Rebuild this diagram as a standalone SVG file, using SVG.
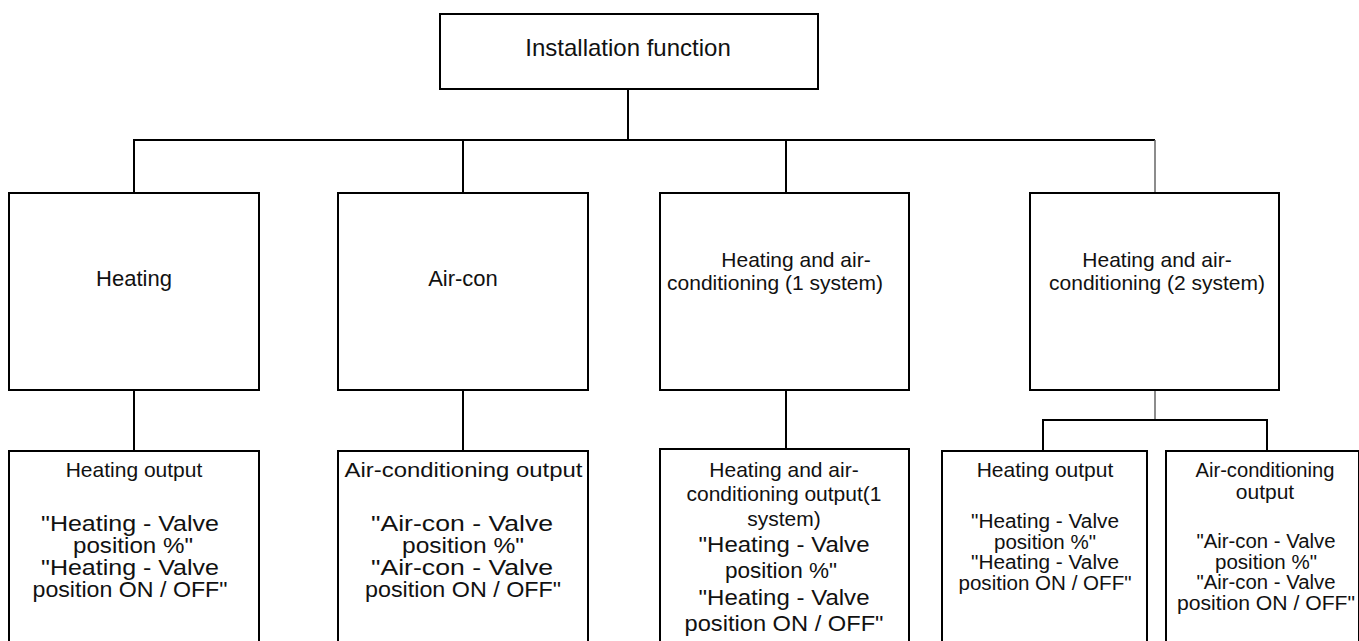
<svg xmlns="http://www.w3.org/2000/svg" width="1359" height="641" viewBox="0 0 1359 641">
<style>
.box{fill:#fff;stroke:#000;stroke-width:2}
.ln{stroke:#000;stroke-width:2;fill:none}
.gl{stroke:#666;stroke-width:1.5;fill:none}
text{font-family:"Liberation Sans",Arial,sans-serif;fill:#111;text-anchor:middle}
.t24{font-size:24px}
.t22{font-size:22px}
.t21{font-size:21px}
.b1{font-size:21.5px}
.b2{font-size:22px}
.b3{font-size:19.5px}
</style>
<rect width="1359" height="641" fill="#fff"/>
<g id="connectors">
<line class="ln" x1="628" y1="89" x2="628" y2="140"/>
<line class="ln" x1="133" y1="140" x2="1155" y2="140"/>
<line class="ln" x1="134" y1="140" x2="134" y2="193"/>
<line class="ln" x1="463" y1="140" x2="463" y2="193"/>
<line class="ln" x1="786" y1="140" x2="786" y2="193"/>
<line class="gl" x1="1155" y1="140" x2="1155" y2="193"/>
<line class="ln" x1="134" y1="390" x2="134" y2="451"/>
<line class="ln" x1="463" y1="390" x2="463" y2="451"/>
<line class="ln" x1="786" y1="390" x2="786" y2="449"/>
<line class="gl" x1="1155" y1="390" x2="1155" y2="420"/>
<polyline class="ln" points="1043,451 1043,420 1267,420 1267,451"/>
</g>
<g id="install">
<rect class="box" x="440" y="14" width="378" height="75"/>
<text class="t24" x="628" y="56">Installation function</text>
</g>
<g id="heating">
<rect class="box" x="9" y="193" width="250" height="197"/>
<text class="t22" x="134" y="286">Heating</text>
</g>
<g id="aircon">
<rect class="box" x="338" y="193" width="250" height="197"/>
<text class="t22" x="463" y="286">Air-con</text>
</g>
<g id="hvac1">
<rect class="box" x="660" y="193" width="249" height="197"/>
<text class="t21" x="796" y="267">Heating and air-</text>
<text class="t21" x="775" y="290">conditioning (1 system)</text>
</g>
<g id="hvac2">
<rect class="box" x="1030" y="193" width="249" height="197"/>
<text class="t21" x="1157" y="267">Heating and air-</text>
<text class="t21" x="1157" y="290">conditioning (2 system)</text>
</g>
<g id="heating-out">
<rect class="box" x="9" y="451" width="250" height="220"/>
<text class="t21" x="134" y="477">Heating output</text>
<text class="b1" x="130" y="531" textLength="178" lengthAdjust="spacingAndGlyphs">"Heating - Valve</text>
<text class="b1" x="133" y="553" textLength="120" lengthAdjust="spacingAndGlyphs">position %"</text>
<text class="b1" x="130" y="575" textLength="178" lengthAdjust="spacingAndGlyphs">"Heating - Valve</text>
<text class="b1" x="130" y="597" textLength="195" lengthAdjust="spacingAndGlyphs">position ON / OFF"</text>
</g>
<g id="aircon-out">
<rect class="box" x="338" y="451" width="250" height="220"/>
<text class="t21" x="463.5" y="477" textLength="238" lengthAdjust="spacingAndGlyphs">Air-conditioning output</text>
<text class="b1" x="462" y="531" textLength="182" lengthAdjust="spacingAndGlyphs">"Air-con - Valve</text>
<text class="b1" x="463" y="553" textLength="122" lengthAdjust="spacingAndGlyphs">position %"</text>
<text class="b1" x="462" y="575" textLength="182" lengthAdjust="spacingAndGlyphs">"Air-con - Valve</text>
<text class="b1" x="463" y="597" textLength="196" lengthAdjust="spacingAndGlyphs">position ON / OFF"</text>
</g>
<g id="hvac1-out">
<rect class="box" x="660" y="449" width="249" height="220"/>
<text class="t21" x="784" y="477">Heating and air-</text>
<text class="t21" x="784" y="501">conditioning output(1</text>
<text class="t21" x="784" y="526">system)</text>
<text class="b2" x="784" y="552" textLength="171" lengthAdjust="spacingAndGlyphs">"Heating - Valve</text>
<text class="b2" x="781" y="578" textLength="112" lengthAdjust="spacingAndGlyphs">position %"</text>
<text class="b2" x="784" y="605" textLength="171" lengthAdjust="spacingAndGlyphs">"Heating - Valve</text>
<text class="b2" x="784" y="631" textLength="199" lengthAdjust="spacingAndGlyphs">position ON / OFF"</text>
</g>
<g id="hvac2-heat-out">
<rect class="box" x="942" y="451" width="205" height="220"/>
<text class="t21" x="1045" y="477">Heating output</text>
<text class="b3" x="1045" y="528" textLength="148" lengthAdjust="spacingAndGlyphs">"Heating - Valve</text>
<text class="b3" x="1045" y="548.5" textLength="102" lengthAdjust="spacingAndGlyphs">position %"</text>
<text class="b3" x="1045" y="569" textLength="148" lengthAdjust="spacingAndGlyphs">"Heating - Valve</text>
<text class="b3" x="1045" y="589.5" textLength="173" lengthAdjust="spacingAndGlyphs">position ON / OFF"</text>
</g>
<g id="hvac2-air-out">
<rect class="box" x="1166" y="451" width="193" height="220"/>
<text class="t21" x="1265" y="477" textLength="139" lengthAdjust="spacingAndGlyphs">Air-conditioning</text>
<text class="t21" x="1265" y="499">output</text>
<text class="b3" x="1266" y="548" textLength="139" lengthAdjust="spacingAndGlyphs">"Air-con - Valve</text>
<text class="b3" x="1266" y="568.5" textLength="102" lengthAdjust="spacingAndGlyphs">position %"</text>
<text class="b3" x="1266" y="589" textLength="139" lengthAdjust="spacingAndGlyphs">"Air-con - Valve</text>
<text class="b3" x="1266" y="609.5" textLength="178" lengthAdjust="spacingAndGlyphs">position ON / OFF"</text>
</g>
</svg>
